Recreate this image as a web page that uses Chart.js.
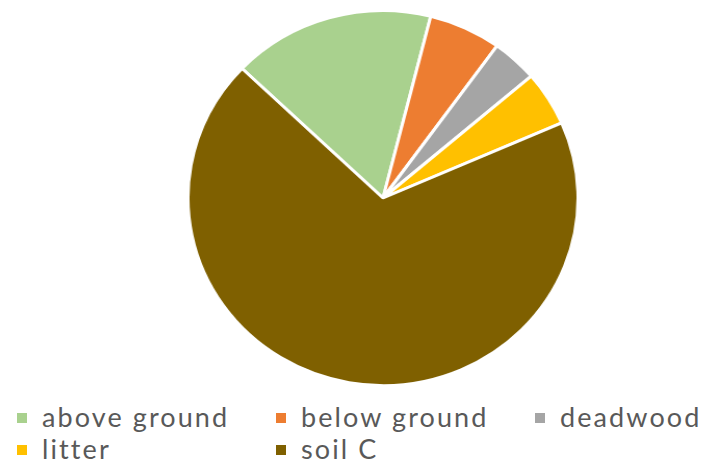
<!DOCTYPE html>
<html>
<head>
<meta charset="utf-8">
<script src="https://cdn.jsdelivr.net/npm/chart.js@4/dist/chart.umd.min.js"></script>
<style>
  html, body { margin: 0; padding: 0; background: #ffffff; }
  body { width: 704px; height: 464px; position: relative; overflow: hidden; }
  #pieWrap {
    position: absolute; left: 193.7px; top: 8.5px; width: 378px; height: 378px;
    transform: scaleX(1.04); transform-origin: 50% 50%;
  }
  #pieWrap canvas { display: block; }
  .legend-box { position: absolute; width: 10px; height: 10px; }
  .legend-text {
    position: absolute; white-space: nowrap;
    font-family: Lato, "Open Sans", sans-serif; font-size: 27px; line-height: 30px;
    letter-spacing: 2.1px; color: #595959;
  }
</style>
</head>
<body>
<div id="pieWrap"><canvas id="pie" width="378" height="378"></canvas></div>
<div id="legend"></div>
<script>
// Carbon pools (% of total stock)
const categories = ['above ground', 'below ground', 'deadwood', 'litter', 'soil C'];
const shares = [16.8, 6.0, 3.8, 4.7, 68.7];
const colors = ['#A9D18E', '#ED7D31', '#A5A5A5', '#FFC000', '#7F6000'];

new Chart(document.getElementById('pie'), {
  type: 'pie',
  data: {
    labels: categories,
    datasets: [{
      data: shares,
      backgroundColor: colors,
      borderColor: '#ffffff',
      borderWidth: 3
    }]
  },
  options: {
    responsive: false,
    animation: false,
    rotation: -46.3,
    layout: { padding: 0 },
    plugins: {
      legend: { display: false },
      tooltip: { enabled: false }
    }
  }
});

// Legend laid out as a three-column grid
const legend = document.getElementById('legend');
const colX = [17, 276, 535];
const rowY = [413, 445];
categories.forEach((name, i) => {
  const col = i % 3, row = Math.floor(i / 3);
  const box = document.createElement('div');
  box.className = 'legend-box';
  box.style.left = colX[col] + 'px';
  box.style.top = rowY[row] + 'px';
  box.style.background = colors[i];
  legend.appendChild(box);
  const txt = document.createElement('div');
  txt.className = 'legend-text';
  txt.textContent = name;
  txt.style.left = (colX[col] + 25) + 'px';
  txt.style.top = (rowY[row] - 11.5) + 'px';
  legend.appendChild(txt);
});
</script>
</body>
</html>
